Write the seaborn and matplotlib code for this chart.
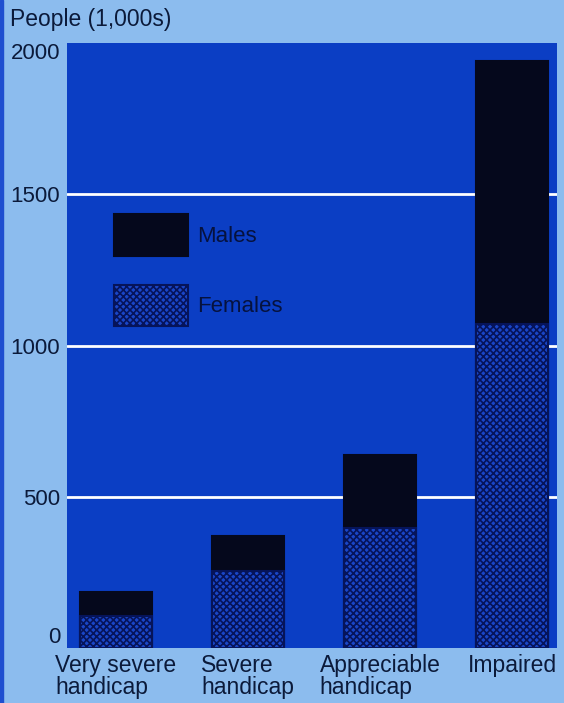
import matplotlib
matplotlib.use("Agg")
import matplotlib.pyplot as plt
import matplotlib.patches as mpatches
import seaborn as sns
import pandas as pd

# Disability survey: people (thousands) by severity, split by sex
categories = ["Very severe\nhandicap", "Severe\nhandicap", "Appreciable\nhandicap", "Impaired"]
females = [105, 255, 397, 1070]
males = [80, 116, 242, 870]
yticks = [0, 500, 1000, 1500, 2000]

df = pd.DataFrame({"category": categories, "females": females, "males": males})
df["total"] = df["females"] + df["males"]

FIG_BG = "#8cbcee"
AX_BG = "#0b3ec4"
MALE_C = "#05081c"
FEMALE_FACE = "#1a46c8"
FEMALE_HATCH = "#06145a"
TEXT_C = "#0b1a3a"

sns.set_theme(style="white")
plt.rcParams["font.family"] = ["Liberation Sans", "DejaVu Sans"]
plt.rcParams["hatch.linewidth"] = 1.2

fig = plt.figure(figsize=(5.64, 7.03), dpi=100, facecolor=FIG_BG)
ax = fig.add_axes([0.1188, 0.0782, 0.8688, 0.8606])
ax.set_facecolor(AX_BG)

# thin darker strip along the left edge of the page
fig.patches.append(mpatches.Rectangle((0, 0), 0.006, 1, transform=fig.transFigure,
                                      color="#1f4fd0", zorder=0))

# stacked bars: total (males on top) drawn first, females over the lower part
sns.barplot(data=df, x="category", y="total", color=MALE_C, saturation=1,
            width=0.55, ax=ax, edgecolor=MALE_C, linewidth=1.5)
n_before = len(ax.patches)
sns.barplot(data=df, x="category", y="females", color=FEMALE_FACE, saturation=1,
            width=0.55, ax=ax, edgecolor=FEMALE_HATCH, linewidth=1.5)
for p in ax.patches[n_before:]:
    p.set_hatch("xxxxx")
    p.set_edgecolor(FEMALE_HATCH)

ax.set_ylim(0, 2000)
ax.set_xlim(-0.37, 3.34)
ax.set_axisbelow(True)
for y in yticks[1:-1]:
    ax.axhline(y, color="white", linewidth=2, zorder=0.5)

ax.set_yticks(yticks)
ax.set_yticklabels([str(v) for v in yticks], fontsize=16, color=TEXT_C)
ylabels = ax.get_yticklabels()
ylabels[0].set_verticalalignment("bottom")
ylabels[-1].set_verticalalignment("top")
ax.set_xticks(range(len(categories)))
ax.set_xticklabels(categories, fontsize=16.5, color=TEXT_C, multialignment="left",
                   linespacing=0.95)
ax.tick_params(axis="both", length=0, pad=5)
ax.tick_params(axis="x", pad=4)
ax.set_xlabel("")
ax.set_ylabel("")
for s in ax.spines.values():
    s.set_visible(False)

fig.text(0.017, 0.972, "People (1,000s)", fontsize=16.5, color=TEXT_C, va="center", ha="left")

# legend
h_m = mpatches.Patch(facecolor=MALE_C, edgecolor=MALE_C, linewidth=1.5, label="Males")
h_f = mpatches.Patch(facecolor=FEMALE_FACE, edgecolor=FEMALE_HATCH, hatch="xxxxx",
                     linewidth=1.5, label="Females")
leg = ax.legend(handles=[h_m, h_f], loc="upper left", bbox_to_anchor=(0.056, 0.75),
                frameon=False, handlelength=3.3, handleheight=2.5, labelspacing=1.3,
                handletextpad=0.4, fontsize=16, labelcolor="#06123e")

fig.savefig("out.png", dpi=100, facecolor=FIG_BG)
